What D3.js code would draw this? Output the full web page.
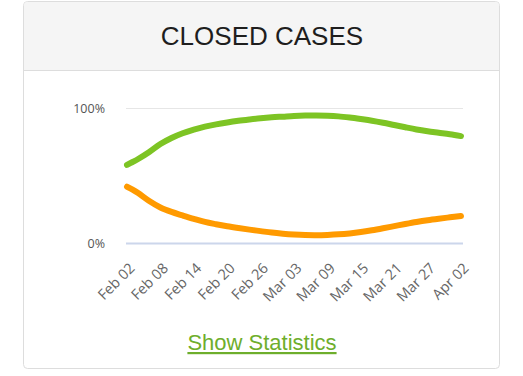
<!DOCTYPE html>
<html>
<head>
<meta charset="utf-8">
<script src="https://cdn.jsdelivr.net/npm/d3@7"></script>
<style>
  body { margin: 0; background: #fff; font-family: "Liberation Sans", Arial, sans-serif; }
  svg { display: block; }
</style>
</head>
<body>
<div id="chart"></div>
<script>
var days = [0, 1, 2, 4, 6, 8, 10, 12, 14, 16, 18, 20, 22, 24, 26, 28, 30,
            32, 34, 36, 38, 40, 42, 44, 46, 48, 50, 52, 54, 56, 58, 60];

// recovered share of closed cases, %
var recovered = [57.8, 60, 62.2, 67.4, 73.3, 77.8, 81.3, 84, 86.2, 87.9, 89.3, 90.5, 91.5, 92.4, 93.1, 93.6, 94.1,
                 94.4, 94.5, 94.3, 93.8, 92.9, 91.8, 90.6, 89.1, 87.4, 85.7, 84.1, 82.8, 81.7, 80.6, 79.2];

// deaths share of closed cases, %
var deaths = [41.7, 39.6, 37, 31.1, 26.3, 23, 20.4, 17.9, 15.6, 13.9, 12.4, 11.1, 9.9, 8.8, 7.7, 6.9, 6.3,
              5.9, 5.8, 6, 6.4, 7.1, 8.1, 9.4, 10.9, 12.5, 14.1, 15.6, 16.9, 18, 19, 20];

var tickLabels = ['Feb 02', 'Feb 08', 'Feb 14', 'Feb 20', 'Feb 26', 'Mar 03',
                  'Mar 09', 'Mar 15', 'Mar 21', 'Mar 27', 'Apr 02'];
var yTicks = [0, 100];

var width = 523, height = 376;
var start = new Date(2020, 1, 2);
var parseTick = d3.timeParse('%b %d %Y');
var fmtTick = d3.timeFormat('%b %d');

var svg = d3.select('#chart').append('svg')
    .attr('width', width)
    .attr('height', height);

// card
svg.append('rect')
    .attr('x', 23.5).attr('y', 1.5)
    .attr('width', 476).attr('height', 367)
    .attr('rx', 4)
    .attr('fill', '#fff')
    .attr('stroke', '#dddddd');

svg.append('path')
    .attr('d', 'M24,70 V5.5 Q24,2 27.5,2 H495.5 Q499,2 499,5.5 V70 Z')
    .attr('fill', '#f5f5f5');

svg.append('line')
    .attr('x1', 24).attr('x2', 499)
    .attr('y1', 70.5).attr('y2', 70.5)
    .attr('stroke', '#dddddd');

svg.append('text')
    .attr('x', 262).attr('y', 45)
    .attr('text-anchor', 'middle')
    .attr('font-size', 26)
    .attr('fill', '#1e1e1e')
    .text('CLOSED CASES');

// scales
var x = d3.scaleTime()
    .domain([start, d3.timeDay.offset(start, 60)])
    .range([127, 461]);

var y = d3.scaleLinear()
    .domain([0, 100])
    .range([243, 108]);

// grid
svg.append('g')
    .selectAll('line')
    .data(yTicks)
    .join('line')
    .attr('x1', 126).attr('x2', 463)
    .attr('y1', function(d) { return Math.round(y(d)) + 0.5; })
    .attr('y2', function(d) { return Math.round(y(d)) + 0.5; })
    .attr('stroke', function(d) { return d === 0 ? '#ccd6eb' : '#e6e6e6'; })
    .attr('stroke-width', function(d) { return d === 0 ? 2 : 1; });

var yAxis = svg.append('g')
    .attr('transform', 'translate(105,0)')
    .call(d3.axisLeft(y).tickValues(yTicks).tickSize(0).tickPadding(0)
        .tickFormat(function(d) { return d + '%'; }));
yAxis.select('.domain').remove();
yAxis.selectAll('text')
    .attr('font-family', '"Open Sans", sans-serif')
    .attr('font-size', 12.5)
    .attr('fill', '#555');

var tickDates = tickLabels.map(function(t) { return parseTick(t + ' 2020'); });

var xAxis = svg.append('g')
    .attr('transform', 'translate(0,243)')
    .call(d3.axisBottom(x).tickValues(tickDates).tickSize(0).tickFormat(fmtTick));
xAxis.select('.domain').remove();
xAxis.selectAll('text')
    .attr('font-family', '"Open Sans", sans-serif')
    .attr('font-size', 14.5)
    .attr('fill', '#666')
    .attr('text-anchor', 'end')
    .attr('dy', 0)
    .attr('transform', 'translate(6,24) rotate(-45)');

// lines
var line = d3.line()
    .x(function(d) { return x(d3.timeDay.offset(start, d[0])); })
    .y(function(d) { return y(d[1]); })
    .curve(d3.curveCatmullRom);

var series = [
    { values: recovered, color: '#7dc424' },
    { values: deaths, color: '#ff9a00' }
];

svg.append('g')
    .selectAll('path')
    .data(series)
    .join('path')
    .attr('fill', 'none')
    .attr('stroke', function(s) { return s.color; })
    .attr('stroke-width', 6)
    .attr('stroke-linecap', 'round')
    .attr('stroke-linejoin', 'round')
    .attr('d', function(s) { return line(days.map(function(d, i) { return [d, s.values[i]]; })); });

// link
svg.append('text')
    .attr('x', 262).attr('y', 350)
    .attr('text-anchor', 'middle')
    .attr('font-size', 22)
    .attr('fill', '#6eae2c')
    .attr('text-decoration', 'underline')
    .text('Show Statistics');
</script>
</body>
</html>
